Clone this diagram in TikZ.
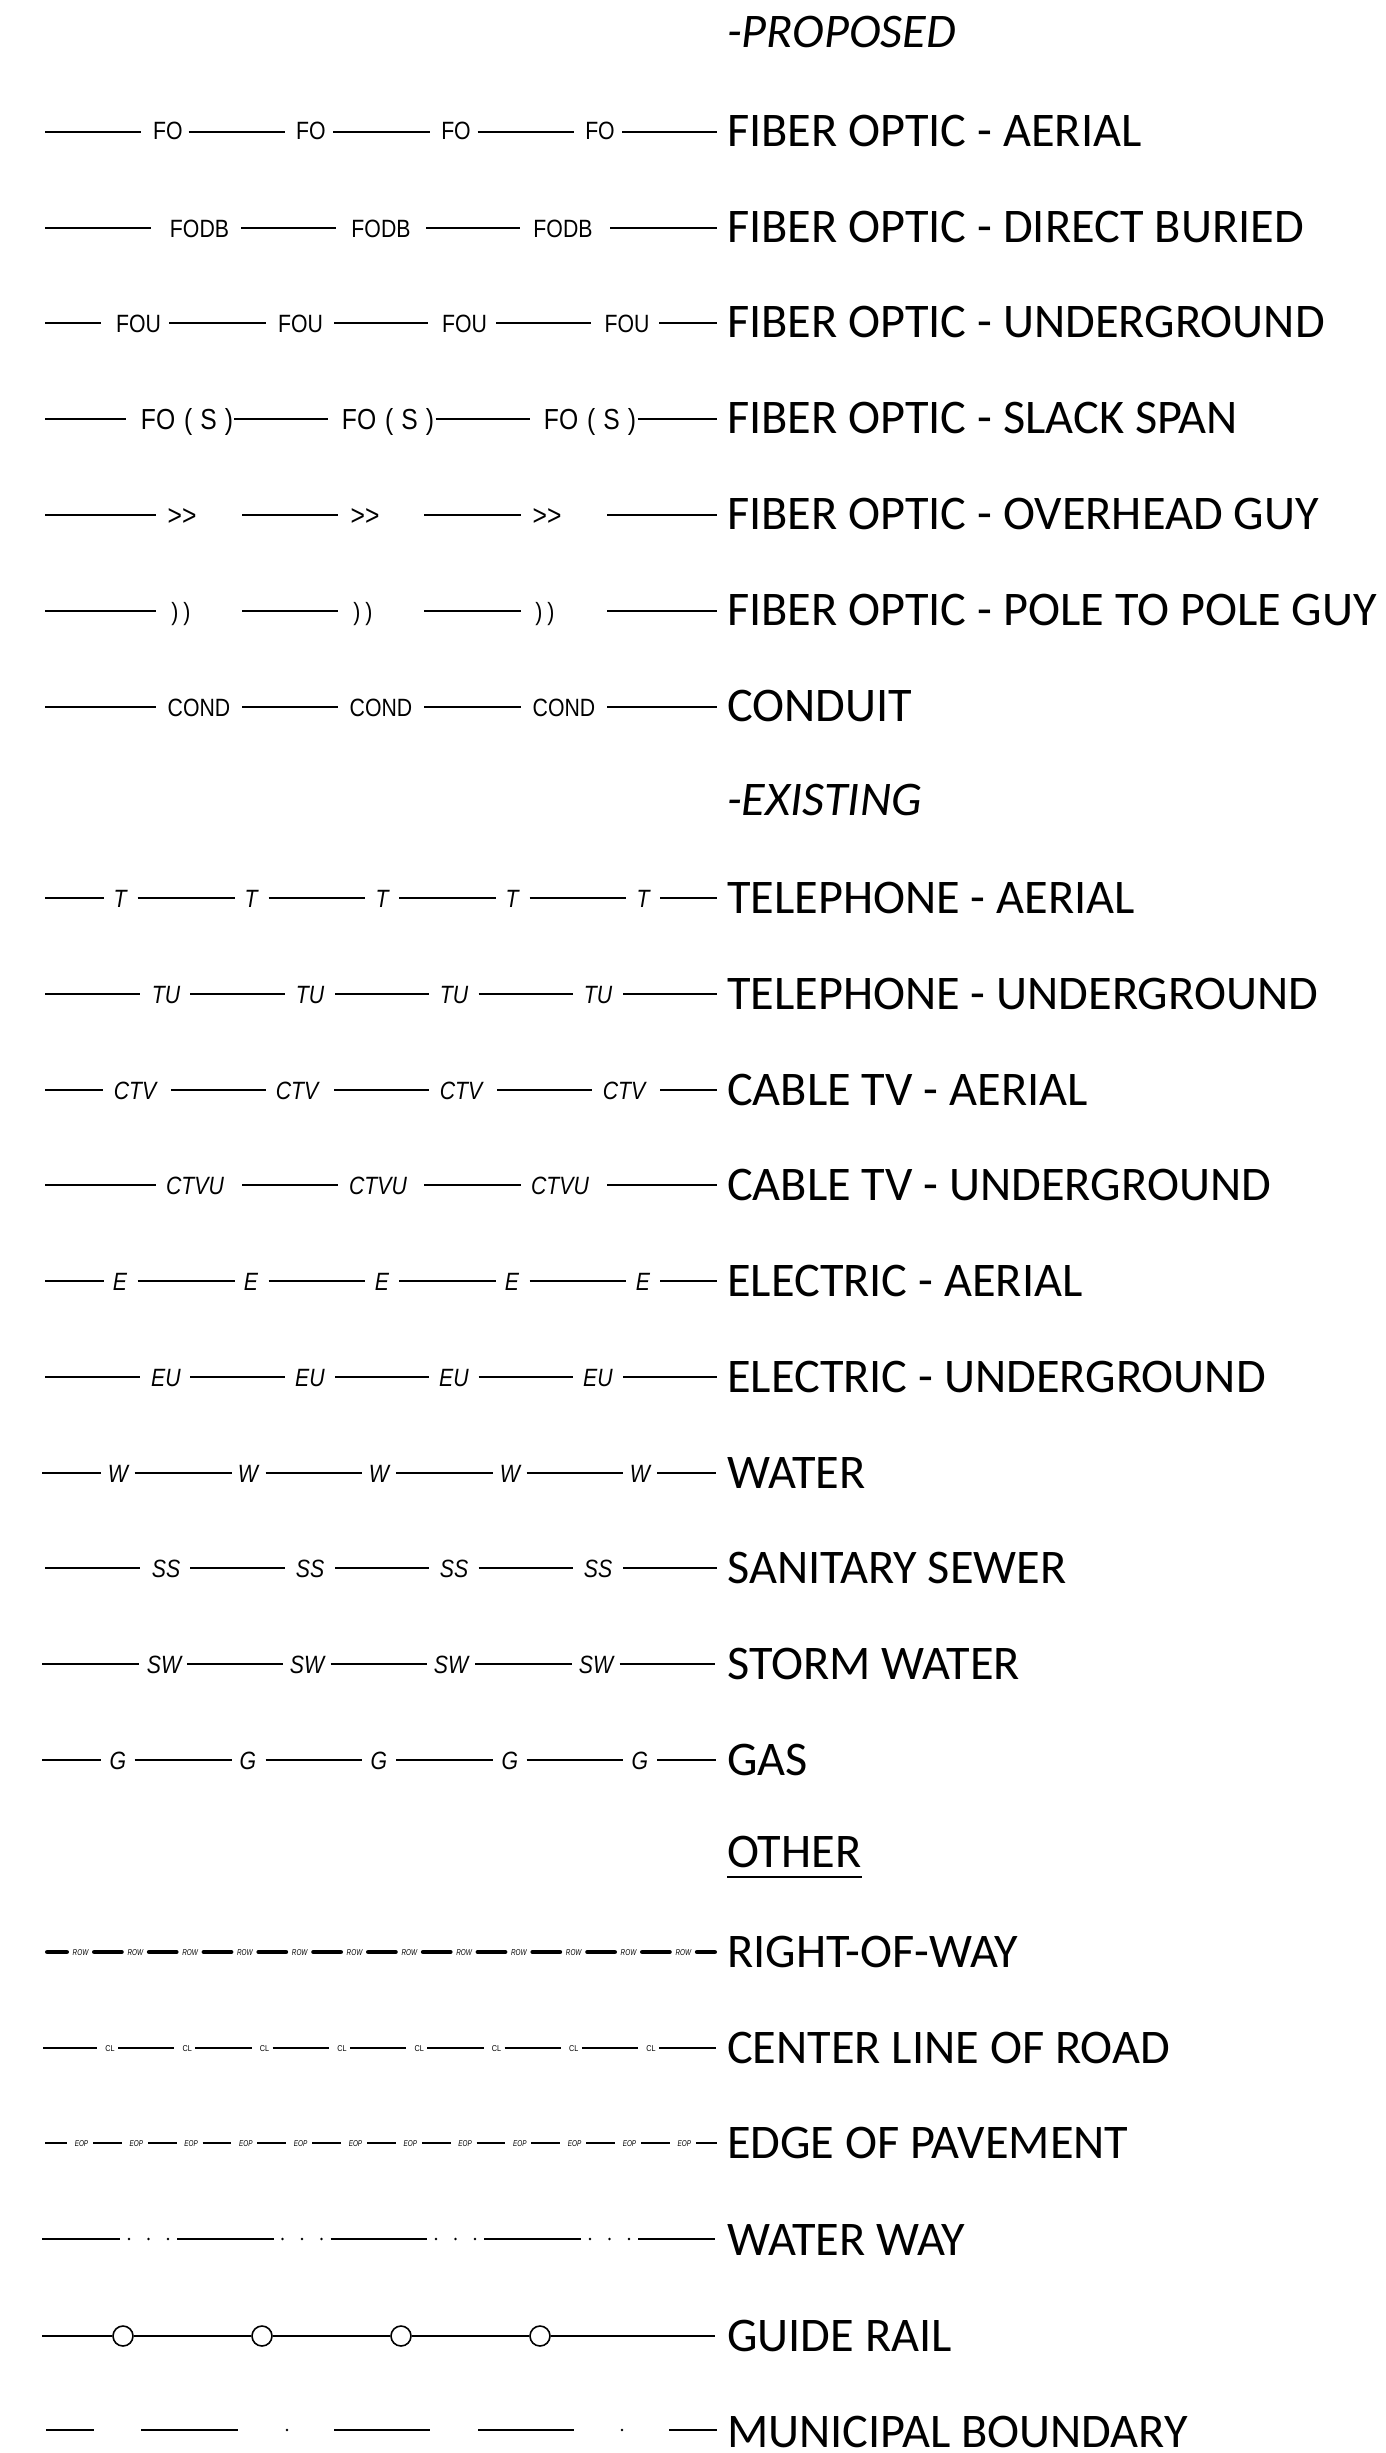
\documentclass[tikz,border=0pt]{standalone}
\usepackage{fontspec}
\setmainfont{Carlito}
\newfontfamily\cadfont[FakeStretch=0.85]{Liberation Sans}
\newfontfamily\cadtiny[FakeStretch=0.75]{Liberation Sans}

\tikzset{
  ln/.style={line width=2pt},
  rowln/.style={line width=4.5pt, line cap=round},
  railln/.style={line width=1.6pt},
  tag/.style={inner sep=0pt, text height=18pt, text depth=0pt, font=\cadfont\fontsize{25}{25}\selectfont},
  itag/.style={tag, font=\cadfont\itshape\fontsize{25}{25}\selectfont},
  stag/.style={tag, font=\cadfont\fontsize{25}{25}\selectfont},
  btag/.style={inner sep=0pt, text height=21pt, text depth=0pt, font=\cadfont\fontsize{29}{29}\selectfont},
  tinytag/.style={inner sep=0pt, text height=6pt, text depth=0pt, font=\cadtiny\itshape\fontsize{8.5}{9}\selectfont},
  cltag/.style={inner sep=0pt, text height=6pt, text depth=0pt, font=\cadfont\fontsize{8.5}{9}\selectfont},
  legend/.style={inner sep=0pt, anchor=base west, font=\fontsize{48.3}{50}\selectfont},
  head/.style={legend, font=\itshape\fontsize{48.3}{50}\selectfont},
  rail/.style={circle, draw, fill=white, line width=1.6pt, minimum size=20pt, inner sep=0pt},
  dotmark/.style={circle, fill, inner sep=0pt, minimum size=2.8pt},
}

% #1 id, #2 y, #3 x start, #4 x end, #5 half gap, #6 tag style, #7 tag text, #8 list labelx/gapx, #9 line style
\newcommand\gaprow[9]{%
  \coordinate (#1s) at (#3,#2);
  \coordinate (#1e) at (#4,#2);
  \gdef\prevpt{#1s}%
  \foreach \lc/\gc [count=\k] in {#8}{%
    \node[#6] (#1n\k) at (\lc,#2) {#7};
    \coordinate (#1a\k) at ({\gc-#5},#2);
    \coordinate (#1b\k) at ({\gc+#5},#2);
    \draw[#9] (\prevpt) -- (#1a\k);
    \xdef\prevpt{#1b\k}%
  }%
  \draw[#9] (\prevpt) -- (#1e);
}

\begin{document}
\begin{tikzpicture}[x=1pt,y=-1pt]
\useasboundingbox (0,0) rectangle (1385,2453);
\fill[white] (0,0) rectangle (1385,2453);

% ---------- PROPOSED ----------
\node[head] (hprop) at (727,47) {-PROPOSED};

\gaprow{fo}{132}{45}{717}{24}{stag,yshift=2pt}{FO}{168/164.5,311/309,456/453.5,600/598}{ln}
\node[legend] (tfo) at (727,146) {FIBER OPTIC - AERIAL};

\gaprow{fodb}{228}{45}{717}{45}{stag}{FODB}{199.5/196,381/381,563/565}{ln}
\node[legend] (tfodb) at (727,242) {FIBER OPTIC - DIRECT BURIED};

\gaprow{fou}{323}{45}{717}{34}{stag}{FOU}{138.5/135,300.5/300,464.5/462,627/625}{ln}
\node[legend] (tfou) at (727,337) {FIBER OPTIC - UNDERGROUND};

\gaprow{fos}{419}{45}{717}{54}{btag}{FO\hspace{9pt}(\hspace{8pt}S\hspace{8pt})}{187/180,388/381.5,590/583.5}{ln}
\node[legend] (tfos) at (727,433) {FIBER OPTIC - SLACK SPAN};

\gaprow{ohg}{515}{45}{717}{43}{btag}{>>}{182/199,365/381,547/564}{ln}
\node[legend] (tohg) at (727,529) {FIBER OPTIC - OVERHEAD GUY};

\gaprow{ppg}{611}{45}{717}{43}{stag}{)\hspace{5pt})}{181/199,363/381,545/564}{ln}
\node[legend] (tppg) at (727,625) {FIBER OPTIC - POLE TO POLE GUY};

\gaprow{cond}{707}{45}{717}{43}{stag}{COND}{199/199,381/381,564/564}{ln}
\node[legend] (tcond) at (727,721) {CONDUIT};

% ---------- EXISTING ----------
\node[head] (hexist) at (727,815) {-EXISTING};

\gaprow{t}{898}{45}{717}{17}{itag}{T}{120/120.5,251/251.5,382/382,512/512.5,643/643}{ln}
\node[legend] (tt) at (727,913) {TELEPHONE - AERIAL};

\gaprow{tu}{994}{45}{717}{25}{itag}{TU}{166/165,310/310,454/453.5,598/598}{ln}
\node[legend] (ttu) at (727,1009) {TELEPHONE - UNDERGROUND};

\gaprow{ctv}{1090}{45}{717}{34}{itag}{CTV}{135/137,297/300,461/463,624/626}{ln}
\node[legend] (tctv) at (727,1105) {CABLE TV - AERIAL};

\gaprow{ctvu}{1185}{45}{717}{43}{itag}{CTVU}{195/199,378/381,560/564}{ln}
\node[legend] (tctvu) at (727,1200) {CABLE TV - UNDERGROUND};

\gaprow{e}{1281}{45}{717}{17}{itag}{E}{120/120.5,251/251.5,382/382,512/512.5,643/643}{ln}
\node[legend] (te) at (727,1296) {ELECTRIC - AERIAL};

\gaprow{eu}{1377}{45}{717}{25}{itag}{EU}{166/165,310/310,454/453.5,598/598}{ln}
\node[legend] (teu) at (727,1392) {ELECTRIC - UNDERGROUND};

\gaprow{w}{1473}{42}{716}{17}{itag}{W}{118/117.5,248/248.5,379/379,510/509.5,640/640}{ln}
\node[legend] (tw) at (727,1488) {WATER};

\gaprow{ss}{1568}{45}{717}{25}{itag}{SS}{166/165,310/310,454/453.5,598/598}{ln}
\node[legend] (tss) at (727,1583) {SANITARY SEWER};

\gaprow{sw}{1664}{42}{715}{24}{itag}{SW}{164/163,307/306.5,451/451,596/595.5}{ln}
\node[legend] (tsw) at (727,1679) {STORM WATER};

\gaprow{g}{1760}{42}{716}{17}{itag}{G}{118/117.5,248/248.5,379/379,510/509.5,640/640}{ln}
\node[legend] (tg) at (727,1775) {GAS};

% ---------- OTHER ----------
\node[legend] (hother) at (727,1867) {OTHER};
\draw[ln] ([yshift=-10pt]hother.base west) -- ([yshift=-10pt]hother.base east);

\gaprow{row}{1952}{47.25}{714.75}{13.75}{tinytag}{ROW}{80.5/80.5,135.3/135.3,190.1/190.1,244.9/244.9,299.7/299.7,354.5/354.5,409.3/409.3,464.1/464.1,518.9/518.9,573.7/573.7,628.5/628.5,683.3/683.3}{rowln}
\node[legend] (trow) at (727,1967) {RIGHT-OF-WAY};

\gaprow{cl}{2048}{43}{716}{10.5}{cltag}{CL}{110/107.5,187.3/184.8,264.6/262.1,341.9/339.4,419.2/416.7,496.5/494,573.8/571.3,651.1/648.6}{ln}
\node[legend] (tcl) at (727,2063) {CENTER LINE OF ROAD};

\gaprow{eop}{2143}{45}{717}{13}{tinytag}{EOP}{81.5/80,136.3/134.8,191.1/189.6,245.9/244.4,300.7/299.2,355.5/354,410.3/408.8,465.1/463.6,519.9/518.4,574.7/573.2,629.5/628,684.3/682.8}{ln}
\node[legend] (teop) at (727,2158) {EDGE OF PAVEMENT};

% water way
\coordinate (wws) at (42,2239);
\coordinate (wwe) at (715,2239);
\foreach \g [count=\k] in {148.5,302,455.5,609.5}{%
  \coordinate (wwa\k) at ({\g-28.5},2239);
  \coordinate (wwb\k) at ({\g+28.5},2239);
  \foreach \d [count=\j] in {-19.5,0,19.5}
    \node[dotmark] (wwd\k\j) at ({\g+\d},2239) {};
}
\draw[ln] (wws) -- (wwa1) (wwb1) -- (wwa2) (wwb2) -- (wwa3) (wwb3) -- (wwa4) (wwb4) -- (wwe);
\node[legend] (tww) at (727,2255) {WATER WAY};

% guide rail
\coordinate (grs) at (42,2336);
\coordinate (gre) at (715,2336);
\foreach \c [count=\k] in {123,262,401,540}
  \node[rail] (gr\k) at (\c,2336) {};
\draw[railln] (grs) -- (gr1) -- (gr2) -- (gr3) -- (gr4) -- (gre);
\node[legend] (tgr) at (727,2351) {GUIDE RAIL};

% municipal boundary
\coordinate (mb1a) at (46,2430);  \coordinate (mb1b) at (94,2430);
\coordinate (mb2a) at (141,2430); \coordinate (mb2b) at (238,2430);
\coordinate (mb3a) at (334,2430); \coordinate (mb3b) at (430,2430);
\coordinate (mb4a) at (478,2430); \coordinate (mb4b) at (574,2430);
\coordinate (mb5a) at (669,2430); \coordinate (mb5b) at (717,2430);
\draw[ln] (mb1a) -- (mb1b) (mb2a) -- (mb2b) (mb3a) -- (mb3b) (mb4a) -- (mb4b) (mb5a) -- (mb5b);
\node[dotmark] (mbd1) at (287,2430) {};
\node[dotmark] (mbd2) at (622,2430) {};
\node[legend] (tmb) at (727,2447) {MUNICIPAL BOUNDARY};

\end{tikzpicture}
\end{document}
